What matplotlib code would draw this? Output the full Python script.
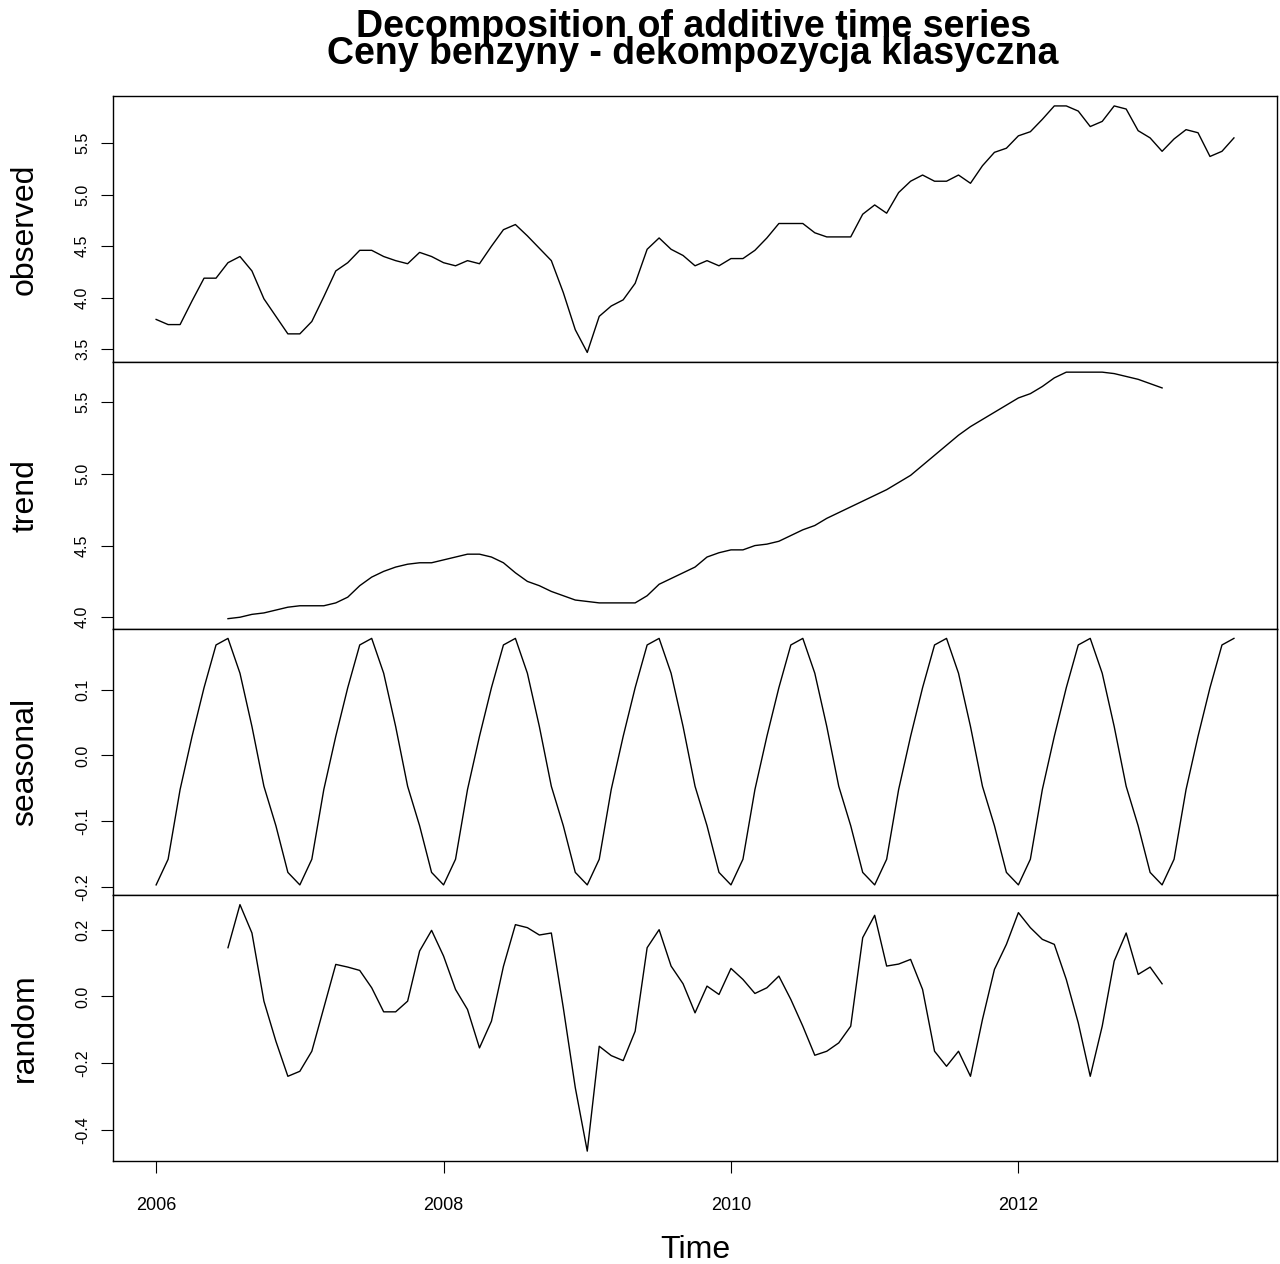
import numpy as np
import matplotlib
matplotlib.use("Agg")
import matplotlib.pyplot as plt
from matplotlib.ticker import FormatStrFormatter

plt.rcParams['font.family'] = ['Liberation Sans', 'DejaVu Sans']
plt.rcParams['axes.unicode_minus'] = False

# monthly series, Jan 2006 - Jul 2013
start_year = 2006
freq = 12

observed = [3.79, 3.74, 3.74, 3.97, 4.19, 4.19, 4.34, 4.40, 4.26, 3.99, 3.82, 3.65,
            3.65, 3.77, 4.01, 4.26, 4.34, 4.46, 4.46, 4.40, 4.36, 4.33, 4.44, 4.40,
            4.34, 4.31, 4.36, 4.33, 4.50, 4.66, 4.71, 4.60, 4.48, 4.36, 4.05, 3.69,
            3.47, 3.82, 3.92, 3.98, 4.14, 4.47, 4.58, 4.47, 4.41, 4.31, 4.36, 4.31,
            4.38, 4.38, 4.46, 4.58, 4.72, 4.72, 4.72, 4.63, 4.59, 4.59, 4.59, 4.81,
            4.90, 4.82, 5.02, 5.13, 5.19, 5.13, 5.13, 5.19, 5.11, 5.28, 5.41, 5.45,
            5.57, 5.61, 5.73, 5.86, 5.86, 5.81, 5.66, 5.71, 5.86, 5.83, 5.62, 5.55,
            5.42, 5.54, 5.63, 5.60, 5.37, 5.42, 5.55]

# trend and random only exist from Jul 2006 to Jan 2013 (centred MA)
trend = [np.nan] * 6 + [
    3.99, 4.00, 4.02, 4.03, 4.05, 4.07,
    4.08, 4.08, 4.08, 4.10, 4.14, 4.22, 4.28, 4.32, 4.35, 4.37, 4.38, 4.38,
    4.40, 4.42, 4.44, 4.44, 4.42, 4.38, 4.31, 4.25, 4.22, 4.18, 4.15, 4.12,
    4.11, 4.10, 4.10, 4.10, 4.10, 4.15, 4.23, 4.27, 4.31, 4.35, 4.42, 4.45,
    4.47, 4.47, 4.50, 4.51, 4.53, 4.57, 4.61, 4.64, 4.69, 4.73, 4.77, 4.81,
    4.85, 4.89, 4.94, 4.99, 5.06, 5.13, 5.20, 5.27, 5.33, 5.38, 5.43, 5.48,
    5.53, 5.56, 5.61, 5.67, 5.71, 5.71, 5.71, 5.71, 5.70, 5.68, 5.66, 5.63,
    5.60] + [np.nan] * 6

seasonal_figure = [-0.197, -0.158, -0.052, 0.029, 0.103, 0.168,
                   0.178, 0.125, 0.044, -0.047, -0.107, -0.178]

random = [np.nan] * 6 + [
    0.146, 0.275, 0.190, -0.014, -0.134, -0.239,
    -0.224, -0.164, -0.034, 0.096, 0.088, 0.078, 0.026, -0.046, -0.046, -0.014, 0.136, 0.198,
    0.121, 0.021, -0.039, -0.154, -0.074, 0.090, 0.215, 0.206, 0.184, 0.190, -0.034, -0.273,
    -0.463, -0.149, -0.177, -0.192, -0.104, 0.146, 0.200, 0.091, 0.038, -0.049, 0.031, 0.006,
    0.084, 0.051, 0.009, 0.026, 0.061, -0.009, -0.089, -0.176, -0.164, -0.139, -0.089, 0.176,
    0.243, 0.091, 0.097, 0.111, 0.021, -0.164, -0.209, -0.164, -0.239, -0.069, 0.081, 0.156,
    0.251, 0.206, 0.171, 0.156, 0.051, -0.079, -0.239, -0.089, 0.106, 0.190, 0.066, 0.088,
    0.038] + [np.nan] * 6

panel_names = ["observed", "trend", "seasonal", "random"]
obs_ticks = [3.5, 4.0, 4.5, 5.0, 5.5]
trend_ticks = [4.0, 4.5, 5.0, 5.5]
seas_ticks = [-0.2, -0.1, 0.0, 0.1]
rand_ticks = [-0.4, -0.2, 0.0, 0.2]
year_ticks = [2006, 2008, 2010, 2012]

n = len(observed)
time = start_year + np.arange(n) / freq
seasonal = np.resize(seasonal_figure, n)

series = [observed, trend, seasonal, random]
ticks = [obs_ticks, trend_ticks, seas_ticks, rand_ticks]

fig = plt.figure(figsize=(12.8, 12.64), dpi=100)
axes = fig.subplots(4, 1, sharex=True, gridspec_kw=dict(hspace=0))
fig.subplots_adjust(left=0.0883, right=0.9977, top=0.924, bottom=0.0815)

span = time[-1] - time[0]
for ax, name, vals, tk in zip(axes, panel_names, series, ticks):
    ax.plot(time, vals, color='black', lw=1.0)
    ax.set_xlim(time[0] - 0.04 * span, time[-1] + 0.04 * span)
    ax.margins(y=0.04)
    ax.set_yticks(tk)
    ax.yaxis.set_major_formatter(FormatStrFormatter('%.1f'))
    ax.tick_params(axis='y', direction='out', length=8.6, width=0.8,
                   labelsize=11.5, labelrotation=90, pad=8)
    for lab in ax.get_yticklabels():
        lab.set_va('center')
    ax.tick_params(axis='x', bottom=False, labelbottom=False)
    ax.set_ylabel(name, fontsize=23, va='center')
    ax.yaxis.set_label_coords(-0.0756, 0.5)
    for sp in ax.spines.values():
        sp.set_linewidth(1.0)
        sp.set_color('black')

bottom = axes[-1]
bottom.set_xticks(year_ticks)
bottom.tick_params(axis='x', bottom=True, labelbottom=True, direction='out',
                   length=8.6, width=0.8, labelsize=13, pad=17)
bottom.set_xlabel("Time", fontsize=23, va='center')
bottom.xaxis.set_label_coords(0.5, -0.335)

# two title lines, packed tightly like the R output
fig.text(0.542, 1 - 27 / 1264, "Decomposition of additive time series",
         ha='center', va='center', fontsize=27, fontweight='bold')
fig.text(0.541, 1 - 54 / 1264, "Ceny benzyny - dekompozycja klasyczna",
         ha='center', va='center', fontsize=27, fontweight='bold')

fig.savefig("out.png", dpi=100)
plt.close(fig)
